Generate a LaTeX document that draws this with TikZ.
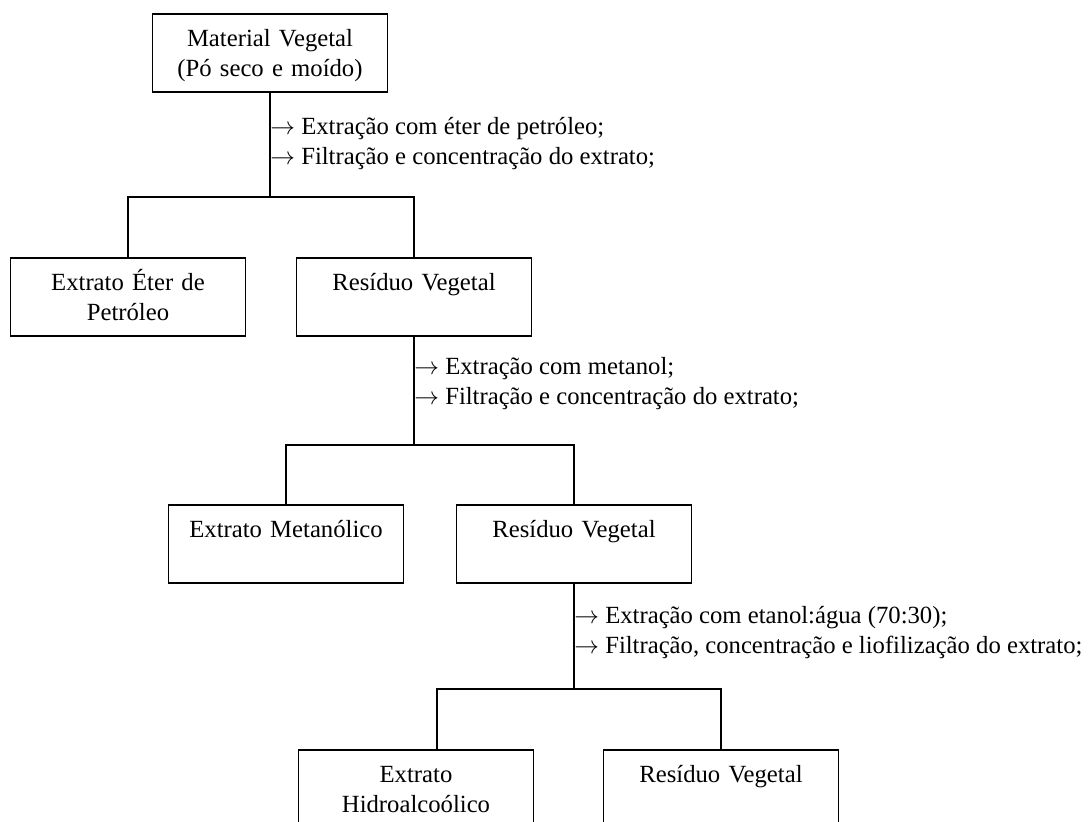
\documentclass[tikz,border=0pt]{standalone}
\usepackage{fontspec}
\setmainfont{Liberation Serif}

\begin{document}
\begin{tikzpicture}[x=0.486pt,y=-0.486pt]
\tikzset{caixa/.style={draw,line width=0.9pt,inner sep=0pt,anchor=north,align=center,text width=114.2pt,text height=16pt,text depth=21.9pt,font=\fontsize{12}{14.6}\selectfont}}
\tikzset{passo/.style={anchor=base west,inner sep=0pt,font=\fontsize{12}{14.6}\selectfont}}
\tikzset{liga/.style={line width=0.9pt}}
\useasboundingbox (0,0) rectangle (1091,822);
\node[caixa] (mv) at (270,13) {Material Vegetal\\(Pó seco e moído)};
\node[caixa] (ep) at (128,257) {Extrato Éter de\\Petróleo};
\node[caixa] (res1) at (414,257) {Resíduo Vegetal};
\node[caixa] (met) at (286,504) {Extrato Metanólico};
\node[caixa] (res2) at (574,504) {Resíduo Vegetal};
\node[caixa] (hid) at (416,749) {Extrato\\Hidroalcoólico};
\node[caixa] (res3) at (721,749) {Resíduo Vegetal};
\coordinate (j1) at (270,197);
\coordinate (j2) at (414,445);
\coordinate (j3) at (574,689);
\coordinate (h3) at (437,689);
\draw[liga] (mv.south) -- (j1);
\draw[liga] (ep.north) |- (j1) -| (res1.north);
\draw[liga] (res1.south) -- (j2);
\draw[liga] (met.north) |- (j2) -| (res2.north);
\draw[liga] (res2.south) -- (j3);
\draw[liga] (hid.north -| h3) |- (j3) -| (res3.north);
\node[passo] (p1a) at (270,135) {$\rightarrow$ Extração com éter de petróleo;};
\node[passo] (p1b) at (270,165) {$\rightarrow$ Filtração e concentração do extrato;};
\node[passo] (p2a) at (414,375) {$\rightarrow$ Extração com metanol;};
\node[passo] (p2b) at (414,405) {$\rightarrow$ Filtração e concentração do extrato;};
\node[passo] (p3a) at (574,624) {$\rightarrow$ Extração com etanol:água (70:30);};
\node[passo] (p3b) at (574,654) {$\rightarrow$ Filtração, concentração e liofilização do extrato;};
\end{tikzpicture}
\end{document}
